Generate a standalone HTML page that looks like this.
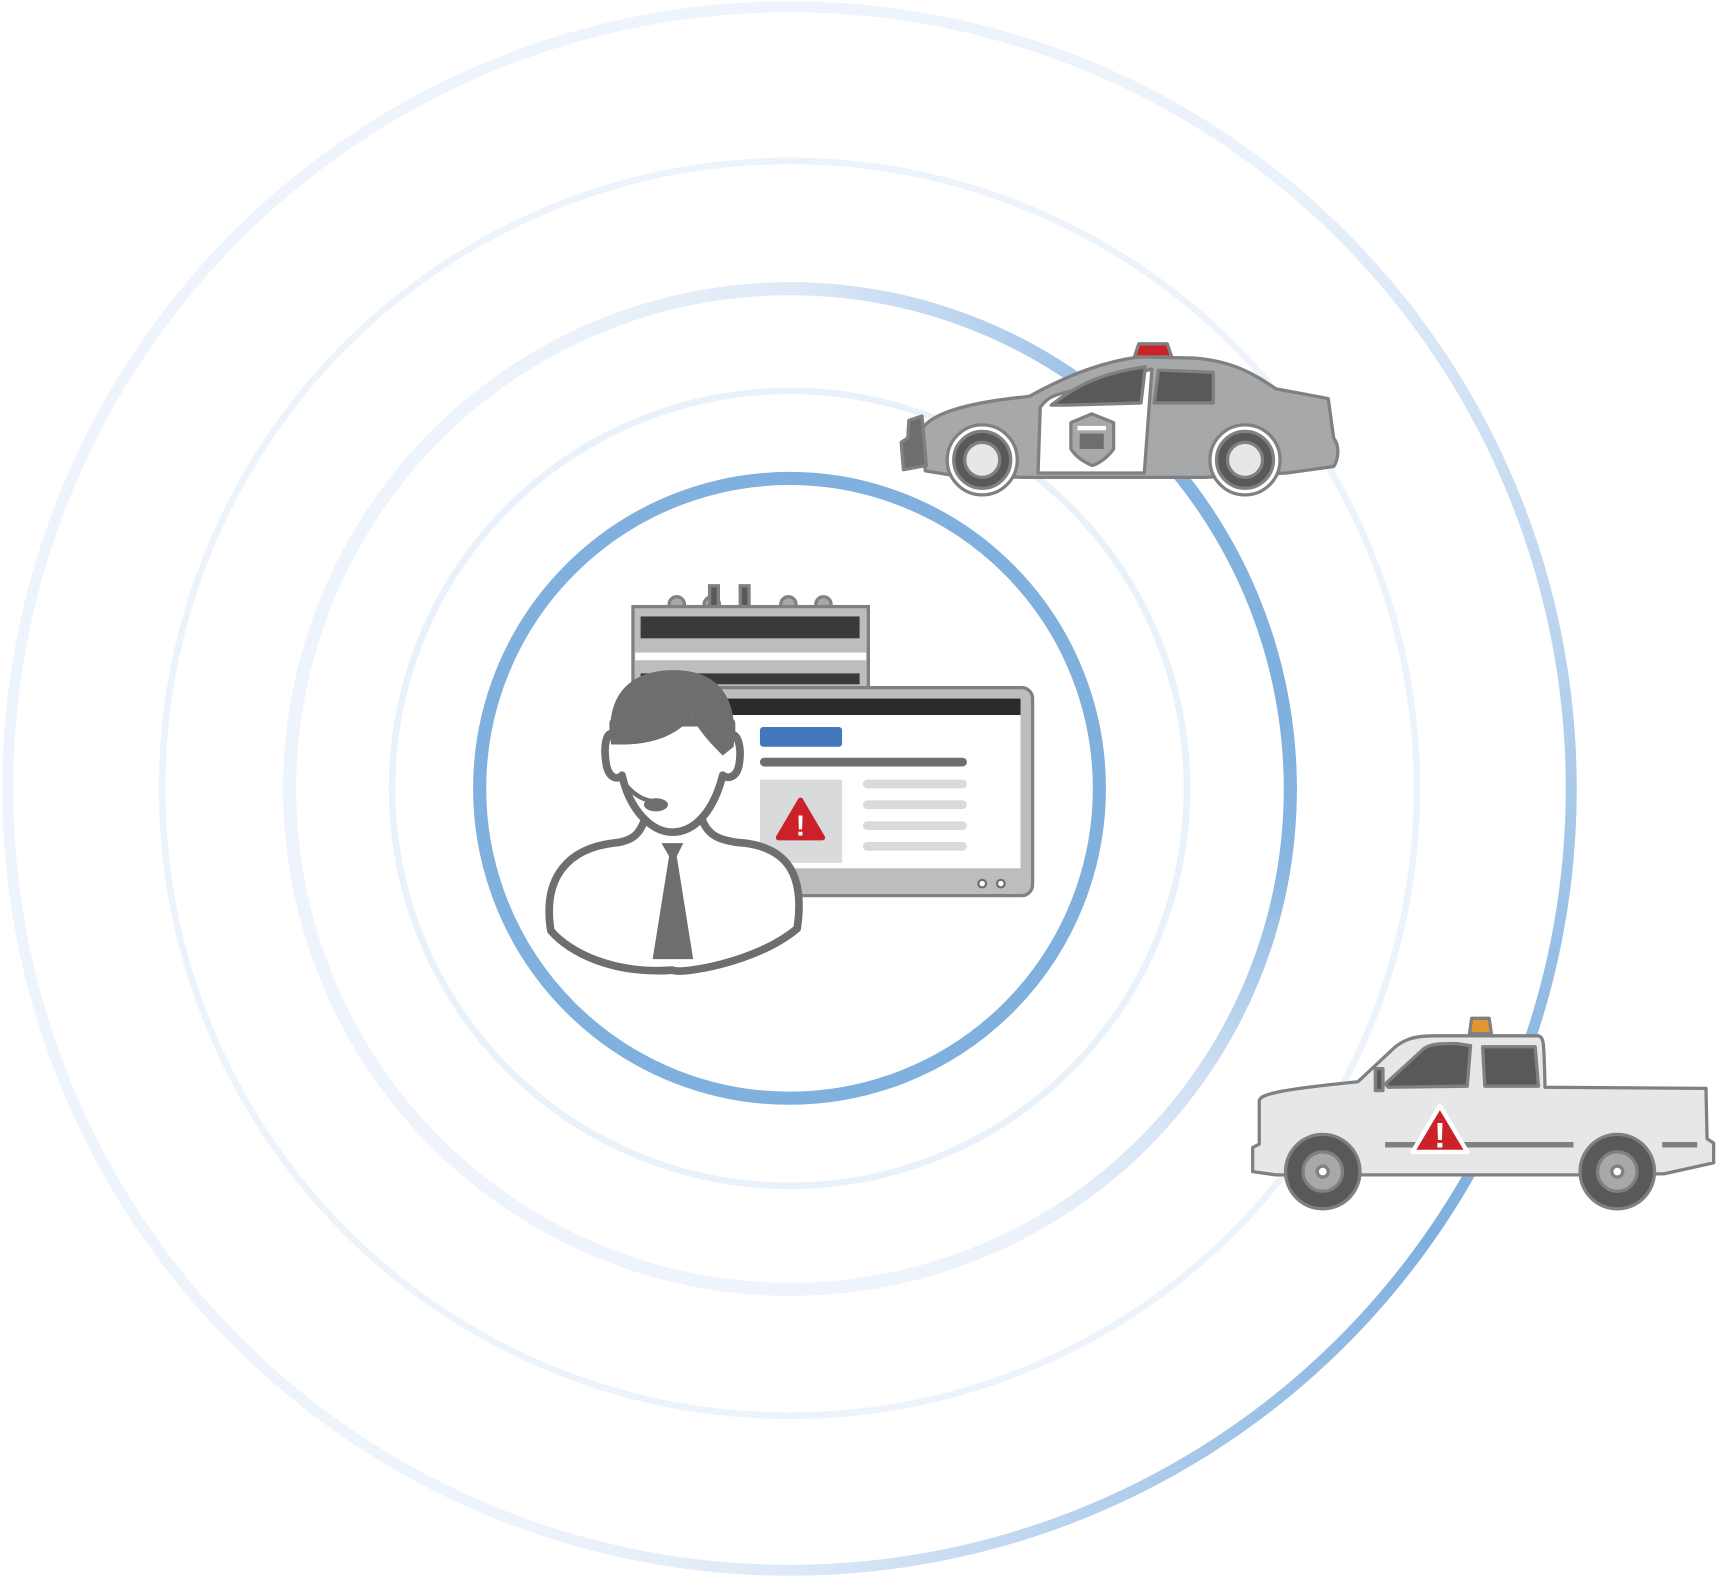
<!DOCTYPE html>
<html><head><meta charset="utf-8"><style>html,body{margin:0;padding:0;background:#fff}
.ring{position:absolute;border-radius:50%}
svg{position:absolute;left:0;top:0;display:block}
</style></head>
<body>
<div class="ring" style="left:2px;top:0.6px;width:1575px;height:1575px;background:conic-gradient(from 0deg,#eef4fb 0deg,#eaf2fb 40deg,#b9d3ee 80deg,#8bb8e2 110deg,#7fb0de 125deg,#a9c9ea 150deg,#dde9f7 180deg,#eef4fb 200deg,#eef4fb 360deg);-webkit-mask:radial-gradient(circle closest-side,transparent 776px,#000 776.5px,#000 787px,transparent 787.5px);mask:radial-gradient(circle closest-side,transparent 776px,#000 776.5px,#000 787px,transparent 787.5px)"></div>
<div class="ring" style="left:282.7px;top:281.5px;width:1014px;height:1014px;background:conic-gradient(from 0deg,#dfeaf7 0deg,#b3cfed 25deg,#86b4df 45deg,#7fb0de 80deg,#8ab7e1 100deg,#cfe0f3 125deg,#eaf1fa 150deg,#eef4fb 170deg,#eef4fb 320deg,#e6eff9 345deg,#dfeaf7 360deg);-webkit-mask:radial-gradient(circle closest-side,transparent 493.5px,#000 494px,#000 507px,transparent 507.5px);mask:radial-gradient(circle closest-side,transparent 493.5px,#000 494px,#000 507px,transparent 507.5px)"></div>
<svg width="1717" height="1580" viewBox="0 0 1568 1443" xmlns="http://www.w3.org/2000/svg">
<circle cx="721" cy="720" r="573" fill="none" stroke="#edf3fb" stroke-width="6"/>
<circle cx="721" cy="720" r="363" fill="none" stroke="#e9f1fa" stroke-width="6"/>
<circle cx="721" cy="720" r="283" fill="none" stroke="#7fb0de" stroke-width="12"/>

<g stroke="#808080" stroke-width="3">
<circle cx="618" cy="552" r="7" fill="#a7a8aa"/><circle cx="720" cy="552" r="7" fill="#a7a8aa"/><circle cx="752" cy="552" r="7" fill="#a7a8aa"/>
<circle cx="650" cy="552" r="7" fill="#a7a8aa"/>
<rect x="648" y="535" width="8" height="20" fill="#58595b"/><rect x="676" y="535" width="8" height="20" fill="#58595b"/>
<rect x="578" y="554" width="215" height="80" fill="#bcbdbf"/>
</g>
<rect x="585" y="563" width="200" height="20" fill="#3a3a3a"/>
<rect x="580" y="596" width="211" height="7" fill="#fff"/>
<rect x="585" y="615" width="200" height="10" fill="#3a3a3a"/>
<rect x="632" y="628" width="311" height="190" rx="10" fill="#bcbdbf" stroke="#808080" stroke-width="3"/>
<rect x="640" y="638" width="292" height="155" fill="#fff"/>
<rect x="640" y="638" width="292" height="15" fill="#2b2b2d"/>
<rect x="694" y="664" width="75" height="18" rx="3" fill="#4577bd"/>
<rect x="694" y="692" width="189" height="8" rx="4" fill="#6d6e70"/>
<rect x="694" y="712" width="75" height="76" fill="#d9dadb"/>
<path d="M731 731 L751 765 L711 765 Z" fill="#cb2128" stroke="#cb2128" stroke-width="5" stroke-linejoin="round"/>
<text x="731" y="763" font-family="Liberation Sans, sans-serif" font-weight="bold" font-size="26" fill="#fff" text-anchor="middle">!</text>
<g fill="#d9dadb"><rect x="788" y="712" width="95" height="8" rx="4"/><rect x="788" y="731" width="95" height="8" rx="4"/><rect x="788" y="750" width="95" height="8" rx="4"/><rect x="788" y="769" width="95" height="8" rx="4"/></g>
<circle cx="897" cy="807" r="3.5" fill="#fff" stroke="#6d6e70" stroke-width="2"/><circle cx="914" cy="807" r="3.5" fill="#fff" stroke="#6d6e70" stroke-width="2"/>
<g stroke="#6d6e70" stroke-width="7" stroke-linejoin="round">
<path d="M503 850 C495 800 520 775 560 770 C580 768 585 760 590 745 L640 745 C645 762 655 768 680 770 C720 775 735 800 728 848 C690 880 620 890 614 886 C560 890 520 870 503 850 Z" fill="#fff"/>
<path d="M560 672 C555 665 550 680 554 700 C557 712 565 712 568 708 C575 740 595 760 614 760 C635 760 652 740 660 708 C665 712 673 710 675 698 C678 680 672 668 668 672 L668 660 L560 660 Z" fill="#fff"/>
</g>
<path d="M558 680 C552 630 580 612 615 612 C650 612 675 630 670 682 L660 690 C650 680 640 670 632 655 C615 675 590 680 568 680 Z" fill="#6d6e70"/>
<path d="M604 770 L624 770 L618 782 L633 876 L596 876 L611 782 Z" fill="#6d6e70"/>
<path d="M570 715 C580 728 590 732 600 732" fill="none" stroke="#6d6e70" stroke-width="4"/>
<ellipse cx="599" cy="735" rx="11" ry="6" fill="#6d6e70"/>

<g stroke="#808080" stroke-width="3" stroke-linejoin="round">
<path d="M1036 326 L1040 314 L1066 314 L1070 326 Z" fill="#cb2128"/>
<path d="M845 430 L842 392 C850 378 880 368 940 362 C980 340 1010 330 1040 326 L1090 327 C1130 330 1150 345 1165 355 L1213 364 L1218 400 C1224 408 1222 420 1218 426 L1175 432 L1100 436 L935 436 L870 434 Z" fill="#a7a8aa"/>
<path d="M950 372 C955 365 960 362 967 360 L1052 337 L1045 432 L948 432 Z" fill="#fff"/>
<path d="M960 370 C985 350 1010 340 1046 335 L1042 368 L975 370 Z" fill="#58595b"/>
<path d="M1058 338 L1108 340 L1108 368 L1054 368 Z" fill="#58595b"/>
<path d="M978 386 L997 378 L1017 386 L1017 410 C1010 420 1000 425 997 425 C990 422 983 418 978 410 Z" fill="#a7a8aa"/>
<path d="M830 384 L842 380 L846 425 L825 429 L823 404 L829 400 Z" fill="#6d6e70"/>
</g>
<rect x="984" y="389" width="26" height="4" fill="#fff"/>
<rect x="986" y="396" width="22" height="14" fill="#6d6e70"/>
<g stroke="#808080" stroke-width="3">
<circle cx="897" cy="420" r="32" fill="#fff"/><circle cx="897" cy="420" r="26" fill="#58595b"/><circle cx="897" cy="420" r="16" fill="#e6e7e8"/>
<circle cx="1137" cy="420" r="32" fill="#fff"/><circle cx="1137" cy="420" r="26" fill="#58595b"/><circle cx="1137" cy="420" r="16" fill="#e6e7e8"/>
</g>

<g stroke="#808080" stroke-width="3" stroke-linejoin="round">
<path d="M1342 944 L1344 930 L1360 930 L1362 944 Z" fill="#e29530"/>
<path d="M1150 1005 C1152 1000 1160 996 1240 988 L1270 960 C1280 950 1290 946 1310 946 L1405 946 C1410 948 1410 950 1411 993 L1558 994 L1559 1040 L1565 1044 L1565 1062 L1520 1072 L1440 1073 L1252 1073 L1165 1073 L1144 1070 L1144 1048 L1150 1045 Z" fill="#e6e7e8"/>
<path d="M1265 990 L1300 958 C1305 954 1310 953 1330 953 L1343 955 L1340 992 L1268 993 Z" fill="#58595b"/>
<path d="M1354 956 L1402 956 L1405 992 L1356 992 Z" fill="#58595b"/>
<rect x="1256" y="976" width="7" height="20" fill="#58595b"/>
</g>
<rect x="1265" y="1043" width="172" height="5" fill="#808080"/><rect x="1518" y="1043" width="32" height="5" fill="#808080"/>
<path d="M1315 1010 L1340 1052 L1290 1052 Z" fill="#cb2128" stroke="#fff" stroke-width="4" stroke-linejoin="round"/>
<text x="1315" y="1048" font-family="Liberation Sans, sans-serif" font-weight="bold" font-size="32" fill="#fff" text-anchor="middle">!</text>
<g stroke="#808080" stroke-width="3">
<circle cx="1208" cy="1070" r="34" fill="#58595b"/><circle cx="1208" cy="1070" r="18" fill="#a7a8aa"/><circle cx="1208" cy="1070" r="5" fill="#fff"/>
<circle cx="1477" cy="1070" r="34" fill="#58595b"/><circle cx="1477" cy="1070" r="18" fill="#a7a8aa"/><circle cx="1477" cy="1070" r="5" fill="#fff"/>
</g>
</svg>
</body></html>
